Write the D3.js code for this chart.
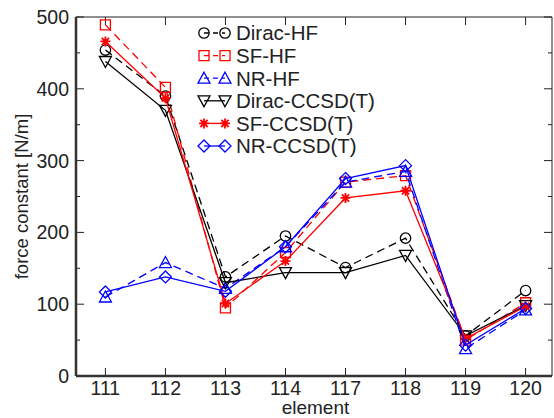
<!DOCTYPE html>
<html>
<head>
<meta charset="utf-8">
<script src="https://cdn.jsdelivr.net/npm/d3@7"></script>
<style>
  body { margin: 0; background: #fff; }
  text { font-family: "Liberation Sans", Arial, sans-serif; fill: #222; }
</style>
</head>
<body>
<svg id="chart"></svg>
<script>
const elements = ["111", "112", "113", "114", "117", "118", "119", "120"];
const yTicks = [0, 100, 200, 300, 400, 500];

const diracHF    = [454, 390, 138, 195, 151, 192, 56, 119];
const sfHF       = [489, 402, 95, 172, 270, 279, 50, 102];
const nrHF       = [110, 158, 122, 180, 270, 285, 38, 92];
const diracCCSD  = [438, 370, 130, 144, 144, 168, 56, 98];
const sfCCSD     = [466, 387, 101, 160, 248, 258, 52, 97];
const nrCCSD     = [117, 138, 118, 180, 275, 293, 43, 94];

const seriesNames = ["Dirac-HF", "SF-HF", "NR-HF", "Dirac-CCSD(T)", "SF-CCSD(T)", "NR-CCSD(T)"];

const series = [
    { name: seriesNames[0], values: diracHF,   color: "#000", dash: "8,5", marker: "circle" },
    { name: seriesNames[1], values: sfHF,      color: "#f00", dash: "8,5", marker: "square" },
    { name: seriesNames[2], values: nrHF,      color: "#00f", dash: "8,5", marker: "triup" },
    { name: seriesNames[3], values: diracCCSD, color: "#000", dash: null,  marker: "tridown" },
    { name: seriesNames[4], values: sfCCSD,    color: "#f00", dash: null,  marker: "star" },
    { name: seriesNames[5], values: nrCCSD,    color: "#00f", dash: null,  marker: "diamond" }
];

const config = {
    width: 554,
    height: 418,
    margin: { top: 17, right: 2, bottom: 42, left: 76 }
};

const svg = d3.select("#chart")
    .attr("width", config.width)
    .attr("height", config.height);

const inner_width = config.width - config.margin.left - config.margin.right;
const inner_height = config.height - config.margin.top - config.margin.bottom;

const chart = svg.append("g")
    .attr("transform", `translate(${config.margin.left}, ${config.margin.top})`);

const xscale = d3.scaleLinear()
    .domain([-0.49, 7.44])
    .range([0, inner_width]);

const yscale = d3.scaleLinear()
    .domain([0, 500])
    .range([inner_height, 0]);

// marker shapes
function drawMarker(g, type, color) {
    const s = g.append("path")
        .attr("fill", "none")
        .attr("stroke", color)
        .attr("stroke-width", 1.3);
    if (type === "circle") s.attr("d", d3.symbol(d3.symbolCircle, 85)());
    if (type === "square") s.attr("d", "M-5,-5H5V5H-5Z");
    if (type === "triup") s.attr("d", "M0,-6L6,5H-6Z");
    if (type === "tridown") s.attr("d", "M0,6L6,-5H-6Z");
    if (type === "diamond") s.attr("d", "M0,-6L6,0L0,6L-6,0Z");
    if (type === "star") s.attr("d", "M-5,0H5M0,-5V5M-3.6,-3.6L3.6,3.6M-3.6,3.6L3.6,-3.6").attr("stroke-width", 1.8);
}

// ticks (inward on all four sides)
const minorY = d3.range(50, 500, 100);
yTicks.forEach(v => {
    chart.append("line").attr("x1", 0).attr("x2", 8).attr("y1", yscale(v)).attr("y2", yscale(v)).attr("stroke", "#222");
    chart.append("line").attr("x1", inner_width).attr("x2", inner_width - 8).attr("y1", yscale(v)).attr("y2", yscale(v)).attr("stroke", "#222");
    chart.append("text")
        .attr("x", -7).attr("y", yscale(v)).attr("dy", "0.36em")
        .attr("text-anchor", "end").attr("font-size", "19.5px")
        .text(v);
});
minorY.forEach(v => {
    chart.append("line").attr("x1", 0).attr("x2", 4).attr("y1", yscale(v)).attr("y2", yscale(v)).attr("stroke", "#222");
    chart.append("line").attr("x1", inner_width).attr("x2", inner_width - 4).attr("y1", yscale(v)).attr("y2", yscale(v)).attr("stroke", "#222");
});
elements.forEach((e, i) => {
    chart.append("line").attr("x1", xscale(i)).attr("x2", xscale(i)).attr("y1", inner_height).attr("y2", inner_height - 8).attr("stroke", "#222");
    chart.append("line").attr("x1", xscale(i)).attr("x2", xscale(i)).attr("y1", 0).attr("y2", 8).attr("stroke", "#222");
    chart.append("text")
        .attr("x", xscale(i)).attr("y", inner_height + 19)
        .attr("text-anchor", "middle").attr("font-size", "19.5px")
        .text(e);
});

// frame
chart.append("line").attr("x1", 0).attr("x2", inner_width).attr("y1", 0).attr("y2", 0).attr("stroke", "#222").attr("stroke-width", 1);
chart.append("line").attr("x1", inner_width).attr("x2", inner_width).attr("y1", 0).attr("y2", inner_height).attr("stroke", "#222").attr("stroke-width", 1);
chart.append("line").attr("x1", 0).attr("x2", inner_width).attr("y1", inner_height).attr("y2", inner_height).attr("stroke", "#333").attr("stroke-width", 2.5);
chart.append("line").attr("x1", 0).attr("x2", 0).attr("y1", 0).attr("y2", inner_height).attr("stroke", "#333").attr("stroke-width", 2.5);

// lines and markers
const line = d3.line()
    .x((d, i) => xscale(i))
    .y(d => yscale(d));

series.forEach(s => {
    chart.append("path")
        .datum(s.values)
        .attr("fill", "none")
        .attr("stroke", s.color)
        .attr("stroke-width", 1.3)
        .attr("stroke-dasharray", s.dash)
        .attr("d", line);
    s.values.forEach((v, i) => {
        const g = chart.append("g").attr("transform", `translate(${xscale(i)}, ${yscale(v)})`);
        drawMarker(g, s.marker, s.color);
    });
});

// legend
const legend = svg.append("g").attr("transform", "translate(204, 33)");
series.forEach((s, i) => {
    const row = legend.append("g").attr("transform", `translate(0, ${i * 22.6})`);
    row.append("line")
        .attr("x1", 0).attr("x2", 21)
        .attr("stroke", s.color).attr("stroke-width", 1.3)
        .attr("stroke-dasharray", s.dash ? "5,4" : null);
    drawMarker(row.append("g"), s.marker, s.color);
    drawMarker(row.append("g").attr("transform", "translate(21,0)"), s.marker, s.color);
    row.append("text")
        .attr("x", 32).attr("y", 0).attr("dy", "0.36em")
        .attr("font-size", "20.5px")
        .text(s.name);
});

// axis titles
svg.append("text")
    .attr("x", config.margin.left + xscale(3.5)).attr("y", 414)
    .attr("text-anchor", "middle").attr("font-size", "19px")
    .text("element");

svg.append("text")
    .attr("transform", `translate(28, ${config.margin.top + inner_height / 2}) rotate(-90)`)
    .attr("text-anchor", "middle").attr("font-size", "18.5px")
    .text("force constant [N/m]");
</script>
</body>
</html>
